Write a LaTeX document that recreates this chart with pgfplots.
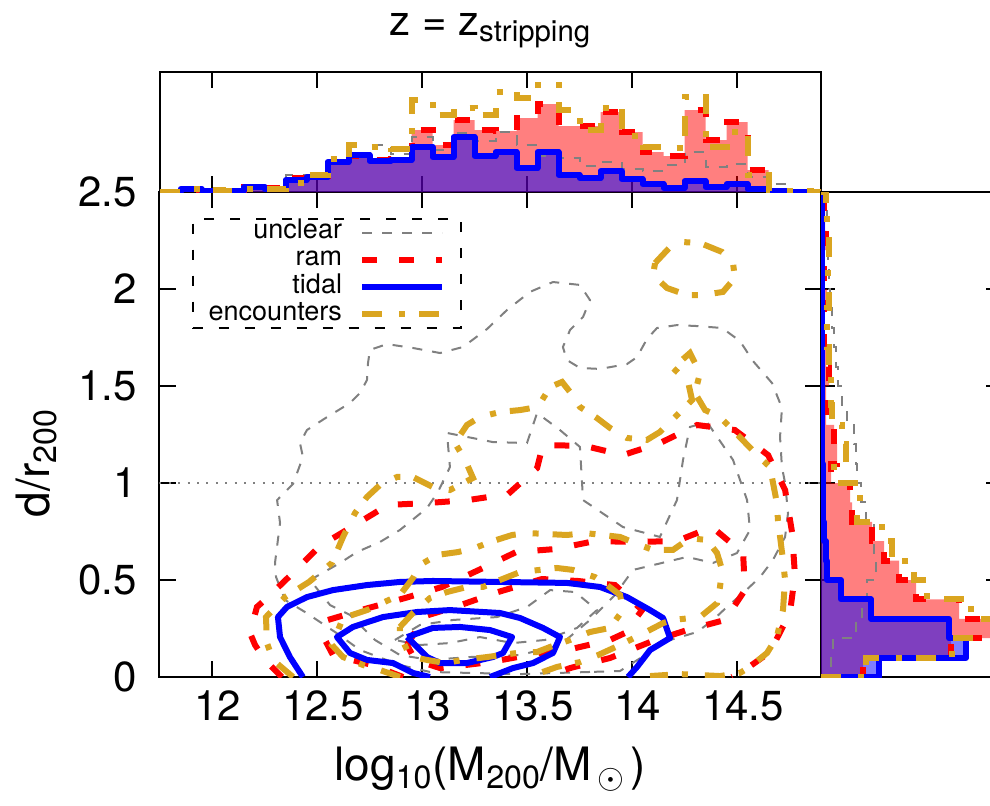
\documentclass[border=0pt]{standalone}
\usepackage{fontspec}
\setmainfont{TeX Gyre Heros}
\usepackage{pgfplots}
\pgfplotsset{compat=1.18}
\usepackage{pgfplotstable}

\definecolor{gold}{RGB}{218,165,32}
\definecolor{unclr}{RGB}{128,128,128}

\pgfplotsset{
  unclear/.style={unclr, line width=1pt, dash pattern=on 5pt off 5pt},
  ram/.style={red, line width=3pt, dash pattern=on 7.5pt off 11pt},
  tidal/.style={blue, line width=3pt, solid, line join=round},
  enc/.style={gold, line width=3pt, dash pattern=on 10pt off 8.5pt on 3pt off 7pt},
  frame/.style={
    scale only axis, tick align=inside, major tick length=8pt,
    every tick/.style={black, line width=1pt},
    axis line style={line width=1pt},
  },
}

% top histogram: lower bin edge, height per class
\pgfplotstableread{
edge  ram tidal unclear enc
11.75 0  0  0  0
11.85 1  3  1  3
11.95 1  1  2  2
12.05 1  1  2  1
12.15 5  5  3  3
12.25 4  3  3  3
12.35 14 12 17 9
12.45 16 15 17 17
12.55 32 30 30 33
12.65 36 37 38 47
12.75 32 31 47 45
12.85 33 32 38 43
12.95 62 45 55 92
13.05 47 35 42 77
13.15 72 55 59 84
13.25 62 36 51 77
13.35 61 40 60 100
13.45 74 24 47 94
13.55 88 40 36 125
13.65 66 17 34 82
13.75 66 14 26 62
13.85 80 21 30 84
13.95 60 13 23 56
14.05 40 8  21 45
14.15 36 4  27 44
14.25 82 11 40 95
14.35 52 5  25 45
14.45 70 8  28 60
14.55 22 3  15 17
14.65 1  1  8  1
14.75 0  0  1  1
14.85 0  0  0  0
14.95 0  0  0  0
}\tophist

% side histogram: lower bin edge in d/r200, length per class
\pgfplotstableread{
d   ram tidal unclear enc
0.0 0   0   0  0
0.0 42  58  10 45
0.1 130 145 12 131
0.2 180 128 35 175
0.3 138 50  41 150
0.4 95  20  46 106
0.5 78  6   55 93
0.6 63  5   53 71
0.7 51  3   53 61
0.8 31  2   45 36
0.9 29  2   40 39
1.0 10  2   36 13
1.1 16  1   35 25
1.2 13  1   33 21
1.3 5   1   26 11
1.4 5   1   21 10
1.5 8   1   17 10
1.6 5   1   15 8
1.7 3   1   13 6
1.8 3   1   11 6
1.9 6   1   9  8
2.0 3   1   8  7
2.1 3   1   7  8
2.2 5   1   6  8
2.3 4   1   6  6
2.4 3   1   5  5
2.5 0   0   0  0
}\sidehist

\begin{document}
\begin{tikzpicture}
\useasboundingbox (-79.75pt,-64pt) rectangle (415.25pt,338.5pt);

\begin{axis}[frame,
  name=main, at={(0,0)}, anchor=south west,
  width=330.75pt, height=242.5pt,
  xmin=11.75, xmax=14.9, ymin=0, ymax=2.5,
  xtick={12,12.5,13,13.5,14,14.5},
  ytick={0,0.5,1,1.5,2,2.5},
  xtick pos=both, ytick pos=both,
  xticklabel pos=lower, yticklabel pos=left,
  /pgf/number format/assume math mode=true,
  tick label style={font=\fontsize{21}{21}\selectfont},
  xticklabel style={yshift=-3.5pt, xshift=3pt},
  yticklabel style={xshift=-7.75pt},
  xlabel={log\textsubscript{10}(M\textsubscript{200}/M\textsubscript{\,$\odot$\,})},
  ylabel={d/r\textsubscript{200}},
  every axis x label/.style={at={(axis description cs:0.5,-0.2144)}, anchor=base},
  every axis y label/.style={at={(axis description cs:-0.167,0.441)}, rotate=90, anchor=base},
  label style={font=\fontsize{23}{23}\selectfont},
  legend plot pos=right, legend cell align=right,
  legend image code/.code={\draw[#1] (0pt,0pt) -- (40pt,0pt);},
  legend style={at={(0.049,0.946)}, anchor=north west,
    draw=black, line width=0.8pt, dash pattern=on 5pt off 8pt,
    inner xsep=8pt, inner ysep=0pt, column sep=8.5pt, row sep=0pt,
    font=\fontsize{13.5}{13.5}\selectfont,
    nodes={inner sep=0pt, text height=9.8pt, text depth=3.8pt}},
]
\addplot[unclr, line width=1pt, dash pattern=on 1pt off 3.7pt, forget plot]
  coordinates {(11.75,1) (14.9,1)};

% unclear
\addplot[unclear, forget plot] coordinates {(13.800,0.026) (13.467,0.015) (13.229,0.021) (13.038,0.026) (12.895,0.062) (12.705,0.139) (12.586,0.232) (12.443,0.335) (12.348,0.397) (12.305,0.515) (12.300,0.588) (12.324,0.794) (12.310,0.912) (12.386,0.995) (12.433,1.134) (12.419,1.206) (12.452,1.273) (12.548,1.340) (12.657,1.412) (12.705,1.464) (12.738,1.531) (12.743,1.619) (12.752,1.686) (12.833,1.716) (12.957,1.696) (13.086,1.670) (13.195,1.701) (13.310,1.794) (13.405,1.892) (13.514,1.985) (13.624,2.036) (13.752,2.021) (13.800,1.943) (13.767,1.856) (13.705,1.789) (13.671,1.701) (13.690,1.634) (13.752,1.593) (13.848,1.588) (13.976,1.613) (14.024,1.649) (14.071,1.742) (14.119,1.799) (14.214,1.814) (14.310,1.809) (14.429,1.799) (14.514,1.732) (14.576,1.629) (14.667,1.515) (14.714,1.387) (14.705,1.237) (14.714,1.082) (14.729,1.000) (14.743,0.845) (14.729,0.722) (14.671,0.603) (14.610,0.515) (14.529,0.433) (14.452,0.361) (14.386,0.294) (14.310,0.232) (14.133,0.175) (14.062,0.113) (13.943,0.031) (13.800,0.026)};
\addplot[unclear, forget plot] coordinates {(12.467,0.500) (12.610,0.588) (12.690,0.644) (12.800,0.696) (12.895,0.758) (13.024,0.871) (13.076,0.954) (13.133,1.082) (13.119,1.258) (13.338,1.211) (13.500,1.206) (13.548,1.361) (13.657,1.273) (13.752,1.186) (13.767,0.912) (13.957,0.773) (14.133,0.722) (14.214,0.912) (14.243,1.119) (14.276,1.289) (14.357,1.314) (14.481,1.119) (14.548,0.912) (14.562,0.758) (14.500,0.639) (14.386,0.588) (14.262,0.619) (14.005,0.552) (13.919,0.423) (13.800,0.294) (13.657,0.165) (13.467,0.113) (13.229,0.103) (13.038,0.088) (12.895,0.113) (12.776,0.191) (12.657,0.320) (12.562,0.371) (12.467,0.500)};
\addplot[unclear, forget plot] coordinates {(12.871,0.191) (12.990,0.268) (13.148,0.294) (13.357,0.309) (13.500,0.361) (13.610,0.448) (13.729,0.438) (13.833,0.345) (13.738,0.253) (13.586,0.191) (13.433,0.175) (13.276,0.206) (13.133,0.175) (12.990,0.165) (12.871,0.191)};

% ram
\addplot[ram, forget plot] coordinates {(12.333,0) (12.252,0.088) (12.205,0.165) (12.181,0.227) (12.214,0.361) (12.262,0.407) (12.371,0.521) (12.514,0.675) (12.681,0.784) (12.838,0.887) (13.029,0.897) (13.219,0.912) (13.410,0.943) (13.548,1.077) (13.576,1.196) (13.776,1.191) (13.957,1.144) (14.133,1.206) (14.310,1.299) (14.490,1.273) (14.648,1.144) (14.729,0.964) (14.762,0.747) (14.776,0.526) (14.752,0.330) (14.657,0.129) (14.524,0.026) (14.476,0)};
\addplot[ram, forget plot] coordinates {(12.910,0) (12.762,0.062) (12.576,0.113) (12.538,0.191) (12.552,0.294) (12.729,0.351) (12.919,0.407) (13.095,0.464) (13.271,0.552) (13.448,0.644) (13.638,0.660) (13.824,0.701) (14.014,0.696) (14.214,0.701) (14.381,0.773) (14.529,0.639) (14.538,0.448) (14.443,0.294) (14.262,0.242) (14.086,0.180) (13.895,0.098) (13.705,0.046) (13.586,0)};
\addplot[ram, forget plot] coordinates {(12.929,0.165) (13.014,0.314) (13.171,0.366) (13.362,0.438) (13.571,0.505) (13.743,0.495) (13.919,0.474) (14.048,0.345) (13.967,0.227) (13.895,0.191) (13.690,0.139) (13.562,0.124) (13.324,0.077) (13.086,0.046) (12.967,0.088) (12.929,0.165)};

% tidal
\addplot[tidal, forget plot] coordinates {(12.433,0) (12.371,0.103) (12.324,0.206) (12.314,0.309) (12.357,0.361) (12.452,0.412) (12.576,0.448) (12.738,0.474) (12.895,0.490) (13.052,0.495) (13.371,0.490) (13.690,0.485) (13.848,0.464) (13.976,0.412) (14.086,0.345) (14.148,0.304) (14.181,0.201) (14.086,0.139) (14.024,0.052) (13.981,0)};
\addplot[tidal, forget plot] coordinates {(13.038,0) (12.957,0.021) (12.862,0.072) (12.738,0.088) (12.657,0.124) (12.595,0.206) (12.671,0.258) (12.814,0.309) (12.976,0.335) (13.133,0.345) (13.371,0.330) (13.467,0.304) (13.576,0.253) (13.657,0.206) (13.624,0.124) (13.529,0.072) (13.433,0.046) (13.324,0)};
\addplot[tidal, forget plot] coordinates {(12.929,0.206) (13.052,0.253) (13.181,0.258) (13.324,0.242) (13.429,0.206) (13.386,0.124) (13.338,0.103) (13.214,0.072) (13.086,0.072) (13.024,0.103) (12.976,0.155) (12.929,0.206)};

% encounters
\addplot[enc, forget plot] coordinates {(12.386,0) (12.290,0.088) (12.262,0.175) (12.257,0.309) (12.348,0.412) (12.462,0.490) (12.571,0.588) (12.624,0.722) (12.681,0.845) (12.738,0.928) (12.800,0.990) (12.881,1.031) (12.957,1.031) (13.052,0.979) (13.133,0.964) (13.243,1.026) (13.205,1.119) (13.157,1.206) (13.214,1.299) (13.276,1.340) (13.371,1.366) (13.467,1.376) (13.552,1.392) (13.610,1.495) (13.667,1.521) (13.705,1.469) (13.752,1.392) (13.833,1.335) (13.895,1.284) (13.976,1.232) (14.071,1.222) (14.133,1.263) (14.229,1.366) (14.286,1.428) (14.267,1.521) (14.195,1.593) (14.276,1.670) (14.324,1.567) (14.300,1.464) (14.348,1.376) (14.419,1.340) (14.481,1.273) (14.586,1.155) (14.657,1.082) (14.690,0.897) (14.695,0.809) (14.719,0.603) (14.729,0.500) (14.719,0.345) (14.690,0.206) (14.643,0.124) (14.562,0.052) (14.514,0.021) (14.419,0.005) (14.229,0.015) (14.086,0.005)};
\addplot[enc, forget plot] coordinates {(14.110,2.134) (14.181,2.216) (14.243,2.242) (14.324,2.237) (14.429,2.191) (14.481,2.134) (14.490,2.057) (14.433,1.985) (14.338,1.969) (14.262,1.969) (14.167,2.005) (14.100,2.072) (14.110,2.134)};
\addplot[enc, forget plot] coordinates {(12.895,0) (12.800,0.036) (12.719,0.062) (12.624,0.103) (12.571,0.165) (12.624,0.304) (12.738,0.345) (12.810,0.381) (12.895,0.423) (12.957,0.510) (12.990,0.577) (13.071,0.629) (13.171,0.644) (13.252,0.665) (13.324,0.696) (13.429,0.732) (13.505,0.742) (13.690,0.732) (13.776,0.742) (13.943,0.722) (14.038,0.680) (14.100,0.655) (14.195,0.655) (14.276,0.716) (14.357,0.706) (14.405,0.639) (14.429,0.552) (14.419,0.464) (14.405,0.381) (14.324,0.309) (14.195,0.294) (14.148,0.278) (14.038,0.216) (13.943,0.165) (13.838,0.113) (13.752,0.077) (13.643,0.052) (13.562,0.021) (13.514,0)};
\addplot[enc, forget plot] coordinates {(12.895,0.258) (12.957,0.330) (13.038,0.407) (13.119,0.438) (13.214,0.464) (13.290,0.464) (13.371,0.500) (13.467,0.541) (13.643,0.562) (13.719,0.552) (13.824,0.515) (13.881,0.474) (13.943,0.423) (13.957,0.345) (13.895,0.253) (13.800,0.232) (13.705,0.191) (13.610,0.155) (13.548,0.129) (13.452,0.124) (13.310,0.103) (13.195,0.088) (13.110,0.072) (13.024,0.088) (12.957,0.103) (12.929,0.139) (12.895,0.216) (12.895,0.258)};

\addlegendimage{unclear}
\addlegendimage{ram}
\addlegendimage{tidal}
\addlegendimage{enc}
\legend{unclear, ram, tidal, encounters}
\end{axis}

\begin{axis}[frame,
  name=top, at={(main.north west)}, anchor=south west,
  width=330.75pt, height=60pt,
  xmin=11.75, xmax=14.9, ymin=0, ymax=120,
  xtick={12,12.5,13,13.5,14,14.5}, xticklabels={}, ytick=\empty,
  xtick pos=both,
  title={z = z\textsubscript{stripping}},
  every axis title/.style={at={(axis description cs:0.5,1.308)}, anchor=base,
    font=\fontsize{21}{21}\selectfont},
]
\addplot[const plot mark left, draw=none, fill=red, fill opacity=0.5]
  table[x=edge, y=ram] {\tophist} \closedcycle;
\addplot[const plot mark left, draw=none, fill=blue, fill opacity=0.5]
  table[x=edge, y=tidal] {\tophist} \closedcycle;
\addplot[const plot mark left, unclear] table[x=edge, y=unclear] {\tophist};
\addplot[const plot mark left, ram] table[x=edge, y=ram] {\tophist};
\addplot[const plot mark left, tidal] table[x=edge, y=tidal] {\tophist};
\addplot[const plot mark left, enc] table[x=edge, y=enc] {\tophist};
\end{axis}

\begin{axis}[frame,
  name=side, at={(main.south east)}, anchor=south west,
  width=89.5pt, height=242.5pt,
  xmin=0, xmax=179, ymin=0, ymax=2.5,
  xtick=\empty, ytick={0.5,1,1.5,2}, yticklabels={},
  ytick pos=both, major tick length=7pt,
]
\addplot[const plot mark right, draw=none, fill=red, fill opacity=0.5]
  table[x=ram, y=d] {\sidehist};
\addplot[const plot mark right, draw=none, fill=blue, fill opacity=0.5]
  table[x=tidal, y=d] {\sidehist};
\addplot[const plot mark right, unclear] table[x=unclear, y=d] {\sidehist};
\addplot[const plot mark right, ram] table[x=ram, y=d] {\sidehist};
\addplot[const plot mark right, tidal] table[x=tidal, y=d] {\sidehist};
\addplot[const plot mark right, enc] table[x=enc, y=d] {\sidehist};
\end{axis}
\end{tikzpicture}
\end{document}
